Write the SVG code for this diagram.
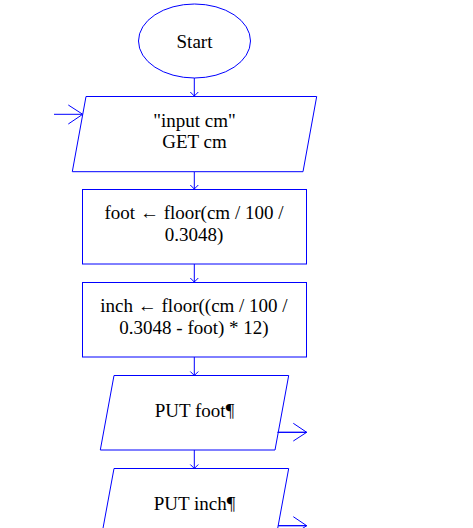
<svg xmlns="http://www.w3.org/2000/svg" width="473" height="528" viewBox="0 0 473 528">
<style>
.s{fill:#fff;stroke:#0000ff;stroke-width:1}
.c{fill:none;stroke:#0000ff;stroke-width:1}
.t{font-family:"Liberation Serif","Times New Roman",serif;font-size:19px;fill:#000;text-anchor:middle}
</style>
<defs>
<marker id="sm" markerUnits="userSpaceOnUse" markerWidth="10" markerHeight="6" refX="4" refY="4.5" viewBox="0 0 8 5" orient="auto-start-reverse" overflow="visible">
<path d="M0,0 L4,4.5 L8,0" transform="rotate(0)" fill="none" stroke="#4040ff" stroke-width="1"/>
</marker>
</defs>
<rect width="473" height="528" fill="#fff"/>
<g id="connectors">
<path class="c" d="M194.3,78 V96"/>
<path class="c" d="M190.3,92 L194.3,96 L198.3,92"/>
<path class="c" d="M194.3,172 V189"/>
<path class="c" d="M190.3,185 L194.3,189 L198.3,185"/>
<path class="c" d="M194.3,264 V282"/>
<path class="c" d="M190.3,278 L194.3,282 L198.3,278"/>
<path class="c" d="M194.3,357 V375.5"/>
<path class="c" d="M190.3,371.5 L194.3,375.5 L198.3,371.5"/>
<path class="c" d="M194.3,450 V468.5"/>
<path class="c" d="M190.3,464.5 L194.3,468.5 L198.3,464.5"/>
<path class="c" d="M54,114.3 H82.7"/>
<path class="c" d="M68.3,105 L82.7,114.3 L68.3,124"/>
<path class="c" d="M277.3,432.3 H306.7"/>
<path class="c" d="M293.3,423.3 L306.7,432.3 L293.3,441"/>
<path class="c" d="M278.2,525.7 H306.7"/>
<path class="c" d="M293.3,516.7 L306.7,525.7 L293.3,534.4"/>
</g>
<g id="start">
<ellipse class="s" cx="194.5" cy="41" rx="56" ry="37"/>
<text class="t" x="194.5" y="48">Start</text>
</g>
<g id="input">
<polygon class="s" points="86,96.5 316.7,96.5 303,171.7 72.3,171.7"/>
<text class="t" x="194.5" y="126.5">"input cm"</text>
<text class="t" x="194.5" y="147.7">GET cm</text>
</g>
<g id="foot">
<rect class="s" x="82.5" y="189.5" width="224" height="74.5"/>
<text class="t" x="194" y="219">foot ← floor(cm / 100 /</text>
<text class="t" x="194" y="240.5">0.3048)</text>
</g>
<g id="inch">
<rect class="s" x="82.5" y="282.5" width="224" height="74.5"/>
<text class="t" x="194" y="312">inch ← floor((cm / 100 /</text>
<text class="t" x="194" y="333.5">0.3048 - foot) * 12)</text>
</g>
<g id="putfoot">
<polygon class="s" points="114,375.5 288.7,375.5 275,450 100.3,450"/>
<text class="t" x="194.5" y="417">PUT foot¶</text>
</g>
<g id="putinch">
<polygon class="s" points="114,468.5 288.7,468.5 275,543 100.3,543"/>
<text class="t" x="194.5" y="510">PUT inch¶</text>
</g>
<path class="c" d="M277.3,432.3 H306.7 M278.2,525.7 H306.7"/>
</svg>
